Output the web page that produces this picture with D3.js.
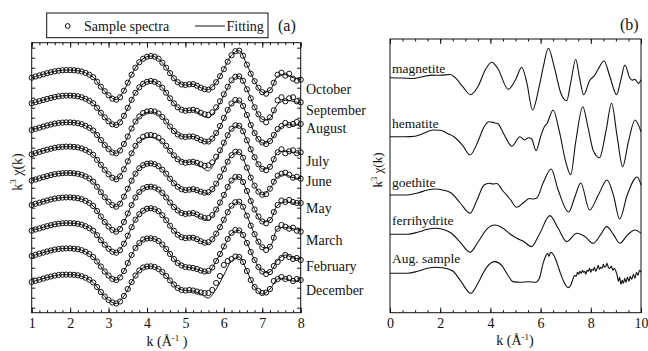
<!DOCTYPE html>
<html>
<head>
<meta charset="utf-8">
<script src="https://cdn.jsdelivr.net/npm/d3@7"></script>
<style>
  body { margin: 0; background: #fff; }
  svg { display: block; }
</style>
</head>
<body>
<svg id="chart" width="648" height="351"></svg>
<script>
// ---- panel (a): k = 1.0 ... 8.0, step 0.1 for the sample spectra, 0.2 for the fits
const months = ['October', 'September', 'August', 'July', 'June', 'May', 'March', 'February', 'December'];
const monthOffset = [230, 204.4, 177.7, 153.4, 127, 102.7, 77, 51.7, 25.7];
const monthLabelAt = [218.4, 197.2, 179.2, 146.7, 126, 99.4, 67.7, 41, 17.7];

const octData = [0,1.2,2.3,3.4,4.5,5.5,6.4,7.0,7.4,7.6,
  7.6,7.4,7.0,6.2,4.8,3.0,0.5,-4,-9,-13.5,
  -17.5,-21,-22,-19.5,-13,-5,3,10,15.5,19,
  21,21.7,21,19,15,10,4.5,-0.5,-4.5,-6.8,
  -7.3,-6.6,-6.4,-8,-10,-11.5,-12,-9.5,-4.5,1.5,
  8.5,16,22.5,26.5,27,22,13,4,-3.5,-10,
  -14.5,-16,-12.5,-5,3,5,2,4,-1,-3,
  -2];
const sepData = [0,1.1,2.2,3.3,4.4,5.4,6.3,7.0,7.5,7.7,
  7.7,7.5,7.0,6.0,4.5,2.5,0,-4.5,-9.5,-14,
  -18,-21,-21.7,-19,-12.5,-4.5,3.5,10.5,16,19.5,
  21.5,22.3,21.5,19.5,15.5,10.5,5,0,-4,-6.5,
  -7.5,-7,-6.5,-7.5,-9.5,-11,-11.5,-9,-4,2,
  9,16.5,23,26.5,27,22.5,14,5,-4,-11,
  -16,-19,-14,-7,3,6,2,5,6,2,
  1];
const augData = [0,1.2,2.3,3.4,4.5,5.5,6.4,7.0,7.4,7.6,
  7.6,7.3,6.8,5.8,4.2,2.2,-0.5,-5,-10,-15,
  -19,-22.5,-23.3,-20.5,-14,-6.5,1.5,8.5,13.5,17,
  18.5,19,18.5,16.5,13,8.5,3.5,-1,-4.5,-6.5,
  -7,-6.5,-6.5,-8,-10,-11.5,-11.5,-8.5,-3,4,
  12,20,26.5,30,29.5,24,15,5,-3,-9,
  -12.5,-14,-11,-5,1,4,7,5,6,8,
  6];
const julData = [0,1.2,2.4,3.5,4.6,5.6,6.5,7.1,7.5,7.7,
  7.7,7.4,6.9,5.9,4.3,2.3,-0.5,-5.5,-10.5,-15.5,
  -20,-23.5,-25,-22,-15,-7,1,8.5,14,17.5,
  19,19.3,18.5,16.5,13,8.5,3.5,-1,-5,-7.5,
  -8.5,-8,-7.5,-8.5,-10,-11.5,-11,-8,-2.5,4,
  11.5,19,25.5,29,28.5,23,14,5,-3,-10,
  -14.5,-16,-12.5,-5,2,5,1,3,4,1,
  2];
const junData = [0,1.2,2.4,3.5,4.6,5.6,6.5,7.1,7.5,7.7,
  7.7,7.4,6.9,5.9,4.3,2.2,-1,-6,-11.5,-16.5,
  -21,-24.5,-26,-23,-16,-8,0,7,12.5,15.5,
  17,17.3,16.5,14.5,11,7,2,-2.5,-6,-8.5,
  -9.5,-9,-8.5,-9.5,-11,-12,-11.5,-8.5,-3,4,
  11.5,19,25.5,29,28.5,23,13,3,-5,-11,
  -14,-13.5,-8,-1,5,7,8,6,3,4,
  2];
const mayData = [0,1.2,2.3,3.4,4.5,5.5,6.4,7.0,7.4,7.6,
  7.6,7.3,6.8,5.8,4.2,2.0,-1,-6,-11.5,-17,
  -21.5,-25,-26.7,-24,-17,-8.5,0,7.5,13,16.5,
  18,18.3,17.5,15.5,12,7.5,2.5,-2,-5.5,-8,
  -9,-8.5,-8,-9.5,-11.5,-13,-13,-10,-4.5,2.5,
  10,18,24.5,28,28,23,14,4,-4.5,-11.5,
  -16.5,-18.3,-15,-7,0,4.5,3,5,3,2,
  2];
const marData = [0,1.2,2.3,3.4,4.5,5.5,6.4,7.0,7.4,7.6,
  7.6,7.4,6.9,6.0,4.5,2.5,0,-4.5,-9.5,-14,
  -18,-21,-22,-19.5,-13,-5,3.5,11,16.5,20,
  22,22.4,21.5,19.5,15.5,10.5,5,0,-4,-6.5,
  -7.5,-7,-7,-8.5,-10.5,-12,-11.5,-8.5,-3,3.5,
  11,18.5,25,28.5,29,24,15,5,-3.5,-11,
  -16.5,-19.3,-16,-7,2,5.7,4,2,3,0,
  -1];
const febData = [0,1.2,2.3,3.4,4.5,5.5,6.4,7.0,7.4,7.6,
  7.6,7.3,6.8,5.8,4.2,2.0,-1,-5.5,-10.5,-15.5,
  -19.5,-23,-24,-21.5,-15,-7,1,8,13,16.5,
  17.5,17.7,17,15,11.5,7,2,-3,-7,-9.5,
  -11,-11.5,-12,-13,-14.5,-15.5,-15,-11.5,-5,2,
  9.5,17,23,26,25.5,21,13,4,-4,-11,
  -15.5,-18,-16,-10,-6,-2,1,-1,-3,-2,
  -4];
const decData = [0,1.2,2.3,3.4,4.5,5.5,6.4,7.0,7.3,7.4,
  7.4,7.2,6.7,5.8,4.3,2.3,-0.5,-5,-10,-14.5,
  -18,-20.5,-21.5,-19.5,-14,-7,0,6.5,11.5,14.5,
  15.5,15.7,15,13,10,6,1.5,-2.5,-6,-8,
  -8.5,-8,-8.5,-9.5,-10.5,-11,-11,-8,-1,6,
  17,21,23,25.5,25,20,11,2,-5,-9,
  -11,-10.5,-7,1,3,5,3,4,1,3,
  2];

const octFit = [0,2.3,4.5,6.4,7.4,7.6,7.0,4.8,0.5,-9,-17.5,-22,-13,3,15.5,21,21,15,4.5,-4.5,-7.3,-6.4,-10,-12,-4.5,8.5,22.5,27,13,-3.5,-14.5,-12.5,1.5,3,0,-2];
const sepFit = [0,2.2,4.4,6.3,7.5,7.7,7.0,4.5,0,-9.5,-18,-21.7,-12.5,3.5,16,21.5,21.5,15.5,5,-4,-7.5,-7,-11,-14.5,-6,8,22,27,14,-4,-16,-15,-1,3,2,0];
const augFit = [0,2.3,4.5,6.4,7.4,7.6,6.8,4.2,-0.5,-10,-19,-23.3,-14,1.5,13,17.5,17.5,12.5,3.5,-4.5,-7,-6.5,-10,-12,-3.5,11,25.5,29,15,-3,-13,-11,0,5,5,5];
const julFit = [0,2.4,4.6,6.5,7.5,7.7,6.9,4.3,-0.5,-10.5,-20,-25,-15,1,13,17,16.5,12,3,-5,-8,-7.5,-12,-16.5,-5,10.5,25,28.5,14,-3,-14.5,-12.5,2,3,2,1];
const junFit = [0,2.4,4.6,6.5,7.5,7.7,6.9,4.3,-1,-11.5,-21,-26,-16,0,12.5,17,16.5,11,2,-6,-9.5,-8.5,-11,-12.5,-3.5,11,25.5,28.5,13,-5,-14,-8,4,6,3,2];
const mayFit = [0,2.3,4.5,6.4,7.4,7.6,6.8,4.2,-1,-11.5,-21.5,-26.7,-17,0,13,18,17.5,12,2.5,-5.5,-9,-8,-12,-15,-5,9.5,24,28,14,-4.5,-16.5,-15,0,3,2,2];
const marFit = [0,2.3,4.5,6.4,7.4,7.6,6.9,4.5,0,-9.5,-18,-22,-13,3.5,16.5,22,21.5,15.5,5,-4,-7.5,-7,-10.5,-12.5,-3,10.5,24.5,28.5,15,-3.5,-16.5,-16,2,3,2,0];
const febFit = [0,2.3,4.5,6.4,7.4,7.6,6.8,4.2,-1,-10.5,-19.5,-24,-15,1,13,17.5,17,11.5,2,-7,-11,-12,-14.5,-16,-5,9,22.5,25.5,13,-4,-15.5,-16,-4,1,-2,-3];
const decFit = [0,2.3,4.5,6.4,7.3,7.4,6.7,4.3,-0.5,-10,-18,-21.5,-14,0,11.5,15.5,15,10,1.5,-6,-8.5,-9,-12,-16,-7,7,21,25,11,-5,-12,-7,3,3,1,2];

const sampleData = [octData, sepData, augData, julData, junData, mayData, marData, febData, decData];
const sampleFit = [octFit, sepFit, augFit, julFit, junFit, mayFit, marFit, febFit, decFit];
const kData = d3.range(71).map(i => 1 + i / 10);
const kFit = d3.range(36).map(i => 1 + i / 5);

// ---- panel (b): reference spectra, [k, value] read at turning points
const refNames = ['magnetite', 'hematite', 'goethite', 'ferrihydrite', 'Aug. sample'];
const refOffset = [235, 176, 117.7, 78.4, 39.4];
const refLabelAt = [239.4, 184.4, 126, 87.7, 49.4];

const magnetite = [[0,0],[0.5,-0.3],[0.9,-0.8],[1.3,1],[1.7,2.6],[2.0,2.4],[2.4,3.2],[2.6,0],[2.9,-9],[3.2,-17],[3.5,-9],[3.8,8],[4.05,15.4],[4.3,9],[4.71,-11.6],[5.0,-2],[5.25,10.4],[5.45,-5],[5.68,-32.3],[5.95,-8],[6.1,10],[6.31,29.4],[6.55,10],[6.8,-15],[7.04,-23],[7.2,-5],[7.4,18.5],[7.55,0],[7.72,-17],[7.95,-3],[8.17,3],[8.3,9],[8.53,16.7],[8.75,2],[9.03,-17],[9.2,-2],[9.36,12.7],[9.55,0],[9.65,-2.5],[9.75,-1.5],[9.9,-5.7],[10,-2]];
const hematite = [[0,0],[0.6,0],[1.0,0.5],[1.4,4],[1.7,6.7],[2.0,6.5],[2.3,3],[2.55,0],[2.9,-9],[3.19,-18.3],[3.5,-5],[3.75,10],[3.95,15],[4.15,14],[4.3,13],[4.55,2],[4.85,-9.5],[5.18,0],[5.36,-3.3],[5.52,-1],[5.64,-2],[5.82,-14],[6.0,0],[6.15,10],[6.25,13],[6.5,26.7],[6.75,5],[7.0,-25],[7.2,-38],[7.4,-5],[7.68,30],[7.9,8],[8.1,-14],[8.35,-21],[8.6,5],[8.83,33.4],[9.05,0],[9.27,-30],[9.5,-5],[9.76,16.7],[10,5]];
const goethite = [[0,0],[0.7,0],[1.1,2],[1.5,5],[1.8,6],[2.1,5],[2.45,1.7],[2.8,-8],[3.19,-18.3],[3.45,-6],[3.75,10],[3.95,11.7],[4.1,11],[4.25,11.5],[4.5,4],[4.78,-4],[5.05,-12.3],[5.35,-7],[5.55,-3.5],[5.7,-4],[5.85,-3],[6.1,12],[6.42,26],[6.7,5],[7.12,-17],[7.35,-3],[7.6,12],[7.95,-15],[8.3,0],[8.65,15],[8.9,0],[9.15,-24],[9.45,0],[9.85,18],[10,10]];
const ferrihydrite = [[0,0],[0.7,0],[1.1,2],[1.5,5],[1.8,6],[2.1,5],[2.45,1],[2.8,-8],[3.19,-18],[3.5,-8],[3.85,5],[4.18,9.3],[4.5,6],[4.8,0],[5.05,-4],[5.3,-6.7],[5.64,-12.3],[5.95,0],[6.37,18.7],[6.7,6],[7.04,-7.3],[7.44,1],[7.75,-2],[8.1,-9],[8.4,0],[8.63,7.7],[8.9,0],[9.16,-9],[9.45,-1],[9.76,4.3],[10,1]];
const augSample = [[0,0],[0.7,0],[1.1,2],[1.5,5],[1.8,6],[2.1,5.5],[2.5,2.3],[2.8,-7],[3.22,-20],[3.5,-10],[3.85,6],[4.18,11.7],[4.45,8],[4.7,-2],[4.9,-8.3],[5.2,-9],[5.5,-8.5],[5.8,-9],[5.95,-5],[6.1,10],[6.2,17],[6.28,20],[6.33,17],[6.4,21],[6.5,19],[6.6,14],[6.75,3],[6.9,-7],[7.1,-14.3],[7.2,-12],[7.3,-5],[7.36,-2],[7.42,-3],[7.47,1],[7.52,-1],[7.56,2],[7.62,0],[7.67,3],[7.71,1],[7.76,2],[7.8,-1],[7.85,3],[7.9,2],[7.95,5],[8.0,1],[8.04,4],[8.1,3],[8.14,6],[8.2,2],[8.25,5],[8.3,8],[8.34,4],[8.4,6],[8.45,5],[8.5,9],[8.55,6],[8.6,7],[8.64,10],[8.7,6],[8.76,5],[8.82,7],[8.88,3],[8.94,5],[9.0,2],[9.05,-2],[9.1,-8],[9.15,-4],[9.2,-11],[9.25,-7],[9.3,-10],[9.35,-5],[9.4,-9],[9.46,-4],[9.52,-8],[9.57,-3],[9.63,-6],[9.7,-1],[9.76,-5],[9.82,1],[9.88,-2],[9.94,3],[10,1]];
const refSpectra = [magnetite, hematite, goethite, ferrihydrite, augSample];

const serif = 'Liberation Serif';
const svg = d3.select('#chart');
const ink = '#111';

function label(sel) {
  return sel.append('text').attr('font-family', serif).attr('fill', ink);
}

// frame with inward ticks on all four sides
function frame(x, y, majorX, minorX, yTicks, labelPad) {
  const [x0, x1] = x.range();
  const [y0, y1] = y.range();
  const g = svg.append('g');
  const axes = [
    [d3.axisBottom, y0, majorX, -5, true],
    [d3.axisBottom, y0, minorX, -2.5, false],
    [d3.axisTop, y1, majorX, -5, false],
    [d3.axisTop, y1, minorX, -2.5, false]
  ];
  axes.forEach(([fn, pos, vals, size, lab]) => {
    const a = g.append('g').attr('transform', `translate(0,${pos})`)
      .call(fn(x).tickValues(vals).tickSize(size).tickPadding(labelPad)
        .tickFormat(lab ? d3.format('d') : ''));
    a.select('.domain').remove();
    a.attr('font-family', serif).attr('font-size', 14);
    a.selectAll('line').attr('stroke', ink);
    a.selectAll('text').attr('fill', ink).attr('font-family', serif);
  });
  if (yTicks) {
    [[d3.axisLeft, x0], [d3.axisRight, x1]].forEach(([fn, pos]) => {
      const a = g.append('g').attr('transform', `translate(${pos},0)`)
        .call(fn(y).tickValues(yTicks).tickSize(-3.5).tickFormat(''));
      a.select('.domain').remove();
      a.selectAll('line').attr('stroke', ink);
    });
  }
  g.append('rect').attr('x', x0).attr('y', y1)
    .attr('width', x1 - x0).attr('height', y0 - y1)
    .attr('fill', 'none').attr('stroke', ink).attr('stroke-width', 1);
}

// ---------- panel (a)
const xA = d3.scaleLinear().domain([1, 8]).range([31.7, 300.7]);
const yA = d3.scaleLinear().domain([-5, 265]).range([312.7, 42.7]);

frame(xA, yA, d3.range(1, 9), d3.range(0, 36).map(i => 1 + i / 5), d3.range(0, 261, 10), 5);

const fitLine = d3.line().curve(d3.curveCatmullRom)
  .x(d => xA(d[0])).y(d => yA(d[1]));

sampleData.forEach((vals, i) => {
  const off = monthOffset[i];
  svg.append('g').selectAll('circle')
    .data(vals)
    .join('circle')
    .attr('cx', (v, j) => xA(kData[j]))
    .attr('cy', v => yA(v + off))
    .attr('r', 2.6)
    .attr('fill', 'none')
    .attr('stroke', ink)
    .attr('stroke-width', 1);
  svg.append('path')
    .datum(sampleFit[i].map((v, j) => [kFit[j], v + off]))
    .attr('d', fitLine)
    .attr('fill', 'none')
    .attr('stroke', ink)
    .attr('stroke-width', 1);
  label(svg)
    .attr('x', 306)
    .attr('y', yA(monthLabelAt[i]) + 4.5)
    .attr('font-size', 14)
    .text(months[i]);
});

// legend
const leg = svg.append('g');
leg.append('rect').attr('x', 46.7).attr('y', 13).attr('width', 221.3).attr('height', 24.7)
  .attr('fill', '#fff').attr('stroke', ink);
leg.append('circle').attr('cx', 67.7).attr('cy', 26).attr('r', 2.4)
  .attr('fill', 'none').attr('stroke', ink).attr('stroke-width', 1);
label(leg).attr('x', 84).attr('y', 31).attr('font-size', 14).text('Sample spectra');
leg.append('line').attr('x1', 195).attr('x2', 225).attr('y1', 26).attr('y2', 26)
  .attr('stroke', ink);
label(leg).attr('x', 226.5).attr('y', 31).attr('font-size', 14).text('Fitting');
label(svg).attr('x', 278).attr('y', 31).attr('font-size', 16).text('(a)');

// axis titles (a)
const yTitleA = label(svg).attr('transform', 'translate(22,172) rotate(-90)')
  .attr('text-anchor', 'middle').attr('font-size', 14);
yTitleA.append('tspan').text('k');
yTitleA.append('tspan').attr('font-size', 9).attr('dy', -6).text('3');
yTitleA.append('tspan').attr('dy', 6).text(' χ(k)');

const xTitleA = label(svg).attr('x', 167).attr('y', 346)
  .attr('text-anchor', 'middle').attr('font-size', 14);
xTitleA.append('tspan').text('k (Å');
xTitleA.append('tspan').attr('font-size', 9).attr('dy', -5).text('-1');
xTitleA.append('tspan').attr('dy', 5).text(' )');

// ---------- panel (b)
const xB = d3.scaleLinear().domain([0, 10]).range([390, 641]);
const yB = d3.scaleLinear().domain([0, 273.7]).range([312.7, 39]);

frame(xB, yB, d3.range(0, 11, 2), d3.range(0, 21).map(i => i / 2), null, 5);

const refLine = d3.line().curve(d3.curveMonotoneX)
  .x(d => xB(d[0])).y(d => yB(d[1]));

refSpectra.forEach((pts, i) => {
  const off = refOffset[i];
  svg.append('path')
    .datum(pts.map(p => [p[0], p[1] + off]))
    .attr('d', refLine)
    .attr('fill', 'none')
    .attr('stroke', ink)
    .attr('stroke-width', 1.1);
  label(svg)
    .attr('x', 392)
    .attr('y', yB(refLabelAt[i]))
    .attr('font-size', 13.5)
    .text(refNames[i]);
});

label(svg).attr('x', 620).attr('y', 30).attr('font-size', 16).text('(b)');

const yTitleB = label(svg).attr('transform', 'translate(382,170) rotate(-90)')
  .attr('text-anchor', 'middle').attr('font-size', 13);
yTitleB.append('tspan').text('k');
yTitleB.append('tspan').attr('font-size', 8.5).attr('dy', -5).text('3');
yTitleB.append('tspan').attr('dy', 5).text(' χ(k)');

const xTitleB = label(svg).attr('x', 515).attr('y', 345)
  .attr('text-anchor', 'middle').attr('font-size', 14);
xTitleB.append('tspan').text('k (Å');
xTitleB.append('tspan').attr('font-size', 9).attr('dy', -5).text('-1');
xTitleB.append('tspan').attr('dy', 5).text(')');
</script>
</body>
</html>
